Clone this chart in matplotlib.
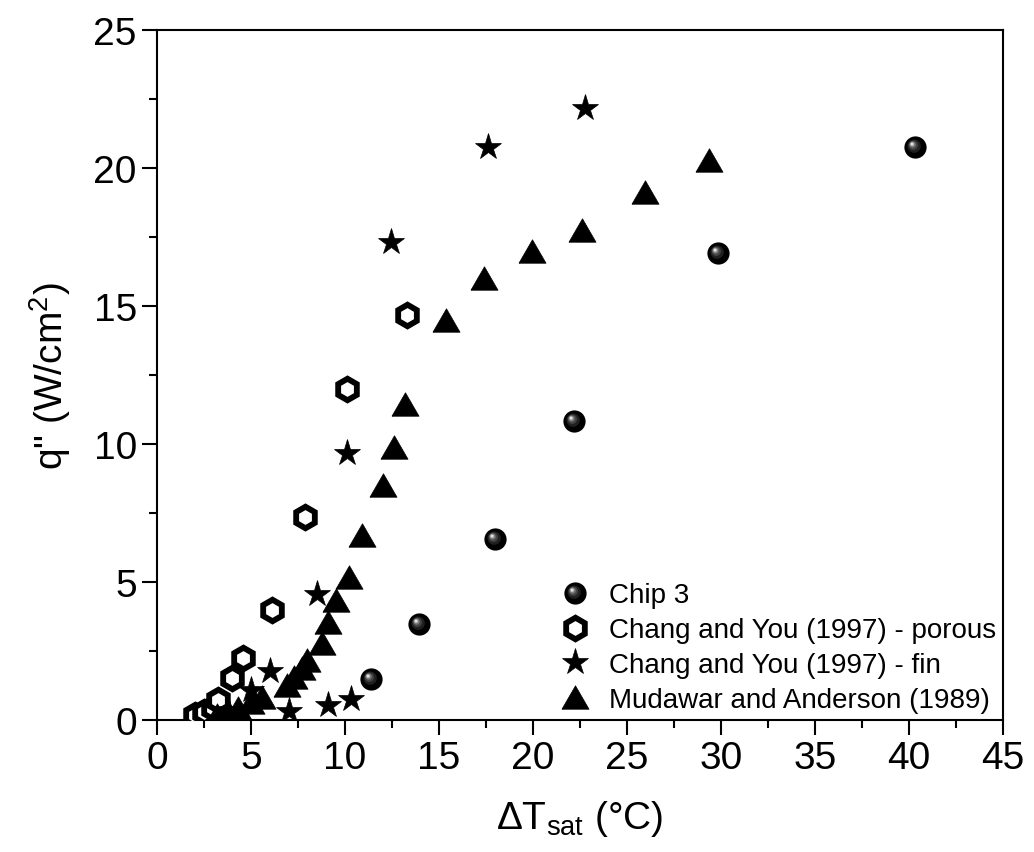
import numpy as np
import matplotlib
matplotlib.use("Agg")
import matplotlib.pyplot as plt
from matplotlib.path import Path
from matplotlib.legend_handler import HandlerTuple

plt.rcParams['font.family'] = ['Liberation Sans', 'DejaVu Sans']
plt.rcParams['mathtext.fontset'] = 'custom'
plt.rcParams['mathtext.rm'] = 'Liberation Sans'
plt.rcParams['mathtext.it'] = 'Liberation Sans:italic'
plt.rcParams['mathtext.default'] = 'regular'

# Chip 3
chip_dt = [11.4, 13.95, 18.0, 22.2, 29.85, 40.35]
chip_q = [1.5, 3.47, 6.55, 10.85, 16.93, 20.75]

# Chang and You (1997) - porous
por_dt = [2.0, 2.5, 3.0, 3.27, 3.98, 4.6, 6.1, 7.9, 10.1, 13.3]
por_q = [0.2, 0.3, 0.45, 0.74, 1.52, 2.24, 3.99, 7.36, 12.0, 14.68]

# Chang and You (1997) - fin
fin_dt = [3.8, 5.0, 6.0, 7.0, 9.1, 10.3, 8.5, 10.1, 12.45, 17.6, 22.75]
fin_q = [0.35, 1.1, 1.78, 0.33, 0.54, 0.78, 4.57, 9.67, 17.32, 20.76, 22.17]

# Mudawar and Anderson (1989)
mud_dt = [3.2, 3.8, 4.3, 5.0, 5.6, 6.9, 7.3, 7.7, 8.0, 8.8, 9.1, 9.55, 10.2,
          10.9, 12.0, 12.6, 13.2, 15.4, 17.4, 19.95, 22.6, 25.95, 29.35]
mud_q = [0.2, 0.3, 0.45, 0.65, 0.85, 1.27, 1.57, 1.87, 2.17, 2.78, 3.56, 4.35, 5.19,
         6.7, 8.5, 9.9, 11.45, 14.5, 16.03, 16.98, 17.77, 19.12, 20.28]

labels = ["Chip 3", "Chang and You (1997) - porous",
          "Chang and You (1997) - fin", "Mudawar and Anderson (1989)"]


def offset_disc(cx, cy, r):
    # circle shifted off-centre; the lone MOVETO at (1, 0) keeps marker scale
    circ = Path.circle((cx, cy), r)
    anchor = Path([(1.0, 0.0)], [Path.MOVETO])
    return Path.make_compound_path(anchor, circ)


tri = [(-1.0, -0.866), (1.0, -0.866), (0.0, 0.866), (-1.0, -0.866)]

fig = plt.figure(figsize=(10.34, 8.53), dpi=100)
ax = fig.add_axes([0.1518, 0.1547, 0.818, 0.809])

# sphere markers: black disc plus lighter highlight layers
ms_ball = 16
sphere_layers = [
    ('o', '#000000'),
    (offset_disc(-0.12, 0.12, 0.6), '#202020'),
    (offset_disc(-0.2, 0.2, 0.42), '#444444'),
    (offset_disc(-0.26, 0.26, 0.28), '#7a7a7a'),
    (offset_disc(-0.3, 0.3, 0.17), '#c0c0c0'),
    (offset_disc(-0.32, 0.32, 0.08), '#f4f4f4'),
]
ball_handles = []
for mk, col in sphere_layers:
    h, = ax.plot(chip_dt, chip_q, linestyle='none', marker=mk, ms=ms_ball,
                 mfc=col, mec='none', zorder=5)
    ball_handles.append(h)

h_por, = ax.plot(por_dt, por_q, linestyle='none', marker='h', ms=15.5,
                 mfc='white', mec='black', mew=4.2, zorder=3)
h_fin, = ax.plot(fin_dt, fin_q, linestyle='none', marker='*', ms=20,
                 mfc='black', mec='black', mew=0.5, zorder=4)
h_mud, = ax.plot(mud_dt, mud_q, linestyle='none', marker=tri, ms=19.5,
                 mfc='black', mec='black', mew=0.5, zorder=4)

ax.set_xlim(0, 45)
ax.set_ylim(0, 25)
ax.set_xticks(np.arange(0, 46, 5))
ax.set_yticks(np.arange(0, 26, 5))
ax.set_xticks(np.arange(2.5, 45, 5), minor=True)
ax.set_yticks(np.arange(2.5, 25, 5), minor=True)
ax.tick_params(which='both', direction='out', width=1.5, top=False, right=False,
               labelsize=28)
ax.tick_params(which='major', length=11)
ax.tick_params(which='minor', length=5.5)
for sp in ax.spines.values():
    sp.set_linewidth(1.5)

ax.set_xlabel(r'$\Delta$T$_{sat}$ (°C)', fontsize=28, labelpad=16)
ax.set_ylabel(r'q" (W/cm$^2$)', fontsize=28, labelpad=15)

leg = ax.legend([tuple(ball_handles), h_por, h_fin, h_mud], labels,
                handler_map={tuple: HandlerTuple(ndivide=1)},
                loc='lower right', bbox_to_anchor=(1.0, 0.0), frameon=False,
                fontsize=20, handlelength=1.0, handletextpad=0.7,
                labelspacing=0.32, borderaxespad=0.1, borderpad=0.15)

fig.savefig('out.png', dpi=100)
